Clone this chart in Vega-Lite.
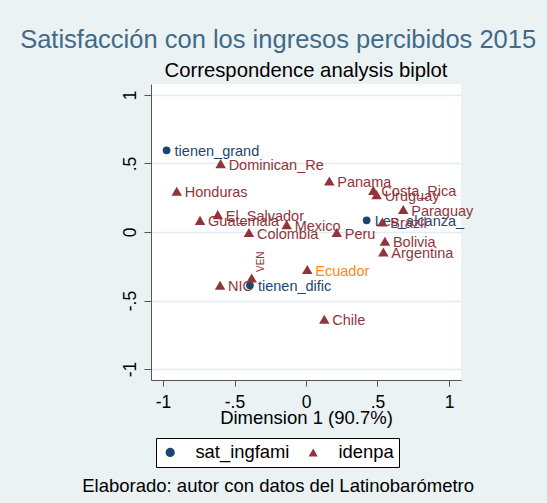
{
  "$schema": "https://vega.github.io/schema/vega-lite/v6.json",
  "background": "#EAF2F3",
  "padding": {"left": 20, "top": 28, "right": 20, "bottom": 20},
  "config": {
    "font": "Liberation Sans",
    "view": {"fill": "white", "stroke": null},
    "concat": {"spacing": 0}
  },
  "title": {"text": "Elaborado: autor con datos del Latinobarómetro", "orient": "bottom", "anchor": "middle", "fontSize": 18.5, "fontWeight": "normal", "color": "#000000", "offset": 9},
  "vconcat": [{
    "title": {"text": "Satisfacción con los ingresos percibidos 2015", "anchor": "middle", "fontSize": 25.5, "fontWeight": "normal", "color": "#3F6A8A", "offset": 7, "dx": -19},
    "vconcat": [{
      "title": {"text": "Correspondence analysis biplot", "anchor": "middle", "frame": "group", "fontSize": 20.3, "fontWeight": "normal", "color": "#000000", "offset": 3},
      "width": 310,
      "height": 296,
      "data": {"values": [
        {"label": "tienen_grand", "group": "sat_ingfami", "dim1": -0.975, "dim2": 0.596},
        {"label": "Les_alcanza_", "group": "sat_ingfami", "dim1": 0.424, "dim2": 0.085},
        {"label": "tienen_dific", "group": "sat_ingfami", "dim1": -0.392, "dim2": -0.389},
        {"label": "Dominican_Re", "group": "idenpa", "dim1": -0.597, "dim2": 0.499},
        {"label": "Honduras", "group": "idenpa", "dim1": -0.904, "dim2": 0.297},
        {"label": "El_Salvador", "group": "idenpa", "dim1": -0.617, "dim2": 0.127},
        {"label": "Guatemala", "group": "idenpa", "dim1": -0.741, "dim2": 0.085},
        {"label": "Mexico", "group": "idenpa", "dim1": -0.135, "dim2": 0.054},
        {"label": "Colombia", "group": "idenpa", "dim1": -0.399, "dim2": -0.004},
        {"label": "Peru", "group": "idenpa", "dim1": 0.215, "dim2": -0.004},
        {"label": "VEN", "group": "idenpa", "dim1": -0.380, "dim2": -0.336},
        {"label": "NIC", "group": "idenpa", "dim1": -0.601, "dim2": -0.389},
        {"label": "Ecuador", "group": "idenpa", "dim1": 0.009, "dim2": -0.274},
        {"label": "Chile", "group": "idenpa", "dim1": 0.128, "dim2": -0.637},
        {"label": "Panama", "group": "idenpa", "dim1": 0.163, "dim2": 0.372},
        {"label": "Costa_Rica", "group": "idenpa", "dim1": 0.471, "dim2": 0.304},
        {"label": "Uruguay", "group": "idenpa", "dim1": 0.494, "dim2": 0.273},
        {"label": "Paraguay", "group": "idenpa", "dim1": 0.680, "dim2": 0.164},
        {"label": "Brazil", "group": "idenpa", "dim1": 0.534, "dim2": 0.073},
        {"label": "Bolivia", "group": "idenpa", "dim1": 0.552, "dim2": -0.068},
        {"label": "Argentina", "group": "idenpa", "dim1": 0.541, "dim2": -0.146}
      ]},
      "encoding": {
        "x": {"field": "dim1", "type": "quantitative",
          "scale": {"domain": [-1.084, 1.084], "nice": false, "zero": false},
          "axis": {"title": "Dimension 1 (90.7%)", "values": [-1, -0.5, 0, 0.5, 1],
            "labelExpr": "datum.value == 0 ? '0' : replace(toString(datum.value), '0.', '.')",
            "grid": false, "domainColor": "#555555", "tickColor": "#555555", "tickSize": 6,
            "labelFontSize": 17.5, "labelColor": "#000000", "labelPadding": 21, "labelBaseline": "alphabetic", "labelFlush": false,
            "titleFontSize": 18.5, "titleFontWeight": "normal", "titleColor": "#000000", "titleY": 43, "titleBaseline": "alphabetic"}},
        "y": {"field": "dim2", "type": "quantitative",
          "scale": {"domain": [-1.08, 1.08], "nice": false, "zero": false},
          "axis": {"title": null, "values": [-1, -0.5, 0, 0.5, 1],
            "labelExpr": "datum.value == 0 ? '0' : replace(toString(datum.value), '0.', '.')",
            "grid": true, "gridColor": "#E3ECEF", "gridWidth": 1.5,
            "domainColor": "#555555", "tickColor": "#555555", "tickSize": 7,
            "labelAngle": 270, "labelAlign": "center", "labelBaseline": "alphabetic", "labelPadding": 9,
            "labelFontSize": 17.5, "labelColor": "#000000", "labelFlush": false}}
      },
      "layer": [
        {
          "transform": [{"filter": "datum.group === 'sat_ingfami'"}],
          "mark": {"type": "point", "filled": true, "size": 60, "opacity": 1},
          "encoding": {
            "color": {"field": "group", "type": "nominal", "scale": {"domain": ["sat_ingfami", "idenpa"], "range": ["#1A476F", "#90353B"]},
              "legend": {"orient": "none", "legendX": 5, "legendY": 354, "direction": "horizontal", "title": null, "strokeColor": "#000000", "fillColor": "#FFFFFF", "padding": 5, "labelFontSize": 18.4, "labelColor": "#000000", "symbolSize": 85, "labelOffset": 16, "columnPadding": 14, "symbolStrokeWidth": 0}},
            "shape": {"field": "group", "type": "nominal", "scale": {"domain": ["sat_ingfami", "idenpa"], "range": ["circle", "triangle-up"]},
              "legend": {"orient": "none", "legendX": 5, "legendY": 354, "direction": "horizontal", "title": null, "strokeColor": "#000000", "fillColor": "#FFFFFF", "padding": 5, "labelFontSize": 18.4, "labelColor": "#000000", "symbolSize": 85, "labelOffset": 16, "columnPadding": 14, "symbolStrokeWidth": 0}}
          }
        },
        {
          "transform": [{"filter": "datum.group === 'sat_ingfami'"}],
          "mark": {"type": "text", "align": "left", "baseline": "alphabetic", "dx": 8, "dy": 6, "fontSize": 14.5},
          "encoding": {"text": {"field": "label"}, "color": {"value": "#1A476F"}}
        },
        {
          "transform": [{"filter": "datum.group === 'idenpa'"}],
          "mark": {"type": "point", "filled": true, "size": 110, "opacity": 1},
          "encoding": {
            "color": {"field": "group", "type": "nominal", "scale": {"domain": ["sat_ingfami", "idenpa"], "range": ["#1A476F", "#90353B"]}},
            "shape": {"field": "group", "type": "nominal", "scale": {"domain": ["sat_ingfami", "idenpa"], "range": ["circle", "triangle-up"]}}
          }
        },
        {
          "transform": [{"filter": "datum.group === 'idenpa' && datum.label !== 'VEN'"}],
          "mark": {"type": "text", "align": "left", "baseline": "alphabetic", "dx": 8, "dy": 6, "fontSize": 14.5},
          "encoding": {"text": {"field": "label"},
            "color": {"condition": {"test": "datum.label === 'Ecuador'", "value": "#FF8A14"}, "value": "#90353B"}}
        },
        {
          "transform": [{"filter": "datum.label === 'VEN'"}],
          "mark": {"type": "text", "align": "left", "baseline": "alphabetic", "angle": 270, "dx": 6, "dy": 12, "fontSize": 10},
          "encoding": {"text": {"field": "label"}, "color": {"value": "#90353B"}}
        }
      ]
    }]
  }]
}
